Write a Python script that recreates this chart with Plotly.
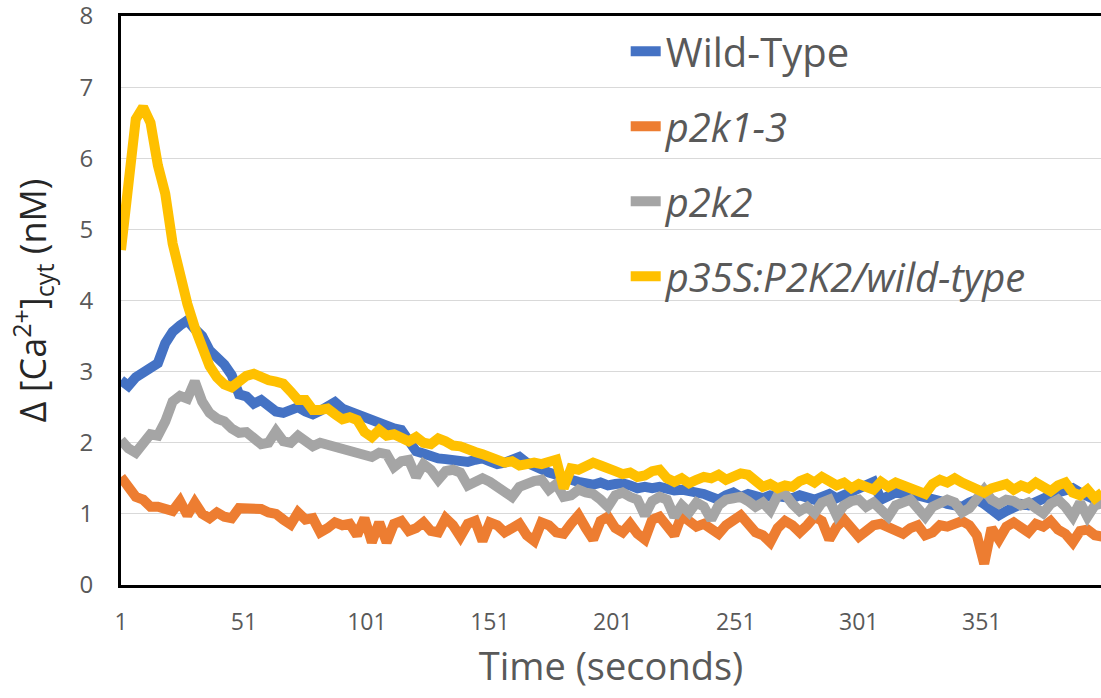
import plotly.graph_objects as go

time_s = list(range(1, 401, 3))

wild_type = [
    2.88, 2.80, 2.92, 3.00, 3.06, 3.12, 3.40, 3.56, 3.65, 3.72,
    3.60, 3.50, 3.30, 3.20, 3.10, 2.95, 2.68, 2.65, 2.55, 2.60,
    2.52, 2.44, 2.42, 2.45, 2.50, 2.44, 2.40, 2.45, 2.50, 2.57,
    2.48, 2.44, 2.40, 2.36, 2.32, 2.26, 2.22, 2.20, 2.18, 2.05,
    1.88, 1.85, 1.80, 1.78, 1.77, 1.76, 1.74, 1.73, 1.76, 1.78,
    1.74, 1.70, 1.72, 1.76, 1.80, 1.72, 1.66, 1.62, 1.58, 1.55,
    1.50, 1.48, 1.45, 1.43, 1.41, 1.44, 1.40, 1.42, 1.43, 1.40,
    1.36, 1.38, 1.36, 1.38, 1.35, 1.33, 1.34, 1.32, 1.33, 1.28,
    1.24, 1.20, 1.26, 1.30, 1.24, 1.28, 1.25, 1.22, 1.26, 1.24,
    1.22, 1.22, 1.26, 1.24, 1.20, 1.24, 1.28, 1.22, 1.26, 1.30,
    1.34, 1.38, 1.45, 1.20, 1.26, 1.30, 1.28, 1.22, 1.26, 1.24,
    1.20, 1.18, 1.14, 1.12, 1.10, 1.16, 1.20, 1.14, 1.06, 0.98,
    1.04, 1.10, 1.14, 1.12, 1.18, 1.22, 1.26, 1.30, 1.34, 1.36,
    1.30, 1.24, 1.20, 1.22,
]

p2k1_3 = [
    1.52, 1.36, 1.24, 1.20, 1.10, 1.10, 1.06, 1.04, 1.18, 0.98,
    1.16, 1.00, 0.94, 1.02, 0.96, 0.94, 1.08, 1.08, 1.05, 1.07,
    1.02, 1.00, 0.92, 0.85, 1.02, 0.92, 0.94, 0.74, 0.80, 0.88,
    0.84, 0.86, 0.70, 0.94, 0.60, 0.88, 0.60, 0.86, 0.90, 0.76,
    0.80, 0.88, 0.76, 0.74, 0.94, 0.84, 0.68, 0.86, 0.90, 0.62,
    0.88, 0.84, 0.74, 0.82, 0.86, 0.70, 0.62, 0.88, 0.84, 0.74,
    0.72, 0.86, 0.98, 0.80, 0.64, 0.90, 0.96, 0.80, 0.74, 0.86,
    0.72, 0.64, 0.92, 0.96, 0.80, 0.70, 0.98, 0.90, 0.82, 0.86,
    0.78, 0.72, 0.84, 0.92, 0.98, 0.86, 0.74, 0.70, 0.60, 0.80,
    0.90, 0.84, 0.74, 0.84, 0.96, 0.90, 0.64, 0.82, 0.92, 0.80,
    0.68, 0.76, 0.84, 0.86, 0.82, 0.78, 0.72, 0.80, 0.84, 0.70,
    0.74, 0.84, 0.82, 0.86, 0.90, 0.84, 0.70, 0.30, 0.80, 0.64,
    0.82, 0.88, 0.80, 0.74, 0.86, 0.82, 0.90, 0.78, 0.72, 0.60,
    0.76, 0.78, 0.70, 0.68,
]

p2k2 = [
    2.04, 1.92, 1.86, 2.02, 2.12, 2.10, 2.30, 2.58, 2.66, 2.62,
    2.86, 2.58, 2.42, 2.34, 2.30, 2.20, 2.14, 2.15, 2.08, 1.98,
    2.00, 2.16, 2.02, 2.00, 2.10, 2.02, 1.95, 2.00, 1.97, 1.94,
    1.92, 1.90, 1.84, 1.82, 1.80, 1.86, 1.84, 1.66, 1.74, 1.76,
    1.52, 1.70, 1.62, 1.48, 1.60, 1.62, 1.58, 1.40, 1.46, 1.50,
    1.45, 1.38, 1.30, 1.24, 1.38, 1.43, 1.46, 1.48, 1.34, 1.42,
    1.24, 1.26, 1.34, 1.30, 1.28, 1.20, 1.10, 1.26, 1.30, 1.24,
    1.20, 0.98, 1.18, 1.24, 1.20, 0.96, 1.12, 1.02, 1.16, 1.10,
    0.92, 1.12, 1.20, 1.22, 1.24, 1.18, 1.10, 1.16, 1.05, 1.26,
    1.28, 1.14, 1.04, 1.10, 1.01, 1.16, 1.20, 0.98, 1.12, 1.18,
    1.20, 1.10, 1.16, 1.06, 0.96, 1.12, 1.18, 1.20, 1.08, 0.96,
    1.10, 1.14, 1.20, 1.16, 1.02, 1.08, 1.22, 1.34, 1.20, 1.14,
    1.20, 1.18, 1.12, 1.16, 1.08, 1.01, 1.14, 1.20, 1.10, 0.96,
    1.16, 0.96, 1.12, 1.15,
]

p35s_p2k2_wt = [
    4.71, 5.70, 6.55, 6.72, 6.50, 5.90, 5.50, 4.80, 4.35, 3.95,
    3.62, 3.30, 3.08, 2.92, 2.82, 2.78, 2.88, 2.94, 2.97, 2.92,
    2.88, 2.86, 2.83, 2.72, 2.60, 2.60, 2.46, 2.46, 2.48, 2.40,
    2.33, 2.36, 2.32, 2.15, 2.08, 2.18, 2.10, 2.12, 2.05, 2.02,
    2.08, 2.00, 1.98, 2.06, 2.02, 1.96, 1.95, 1.90, 1.87, 1.84,
    1.80, 1.78, 1.72, 1.74, 1.68, 1.70, 1.72, 1.70, 1.74, 1.76,
    1.36, 1.64, 1.62, 1.66, 1.72, 1.68, 1.62, 1.60, 1.56, 1.58,
    1.52, 1.54, 1.60, 1.62, 1.50, 1.45, 1.50, 1.43, 1.48, 1.52,
    1.50, 1.55, 1.48, 1.52, 1.57, 1.55, 1.46, 1.38, 1.42, 1.36,
    1.40, 1.38, 1.46, 1.50, 1.44, 1.52, 1.46, 1.40, 1.44, 1.36,
    1.42, 1.38, 1.34, 1.45, 1.38, 1.44, 1.40, 1.36, 1.32, 1.28,
    1.42, 1.48, 1.44, 1.50, 1.44, 1.38, 1.32, 1.30, 1.36, 1.38,
    1.42, 1.34, 1.40, 1.36, 1.44, 1.38, 1.32, 1.40, 1.44, 1.30,
    1.26, 1.34, 1.22, 1.30,
]

series_names = ["Wild-Type", "<i>p2k1-3</i>", "<i>p2k2</i>", "<i>p35S:P2K2/wild-type</i>"]
series_values = [wild_type, p2k1_3, p2k2, p35s_p2k2_wt]
series_colors = ["#4472C4", "#ED7D31", "#A5A5A5", "#FFC000"]

x_tick_vals = [1, 51, 101, 151, 201, 251, 301, 351]
y_tick_vals = [0, 1, 2, 3, 4, 5, 6, 7, 8]

fig = go.Figure()
for i, (name, vals, col) in enumerate(zip(series_names, series_values, series_colors)):
    fig.add_trace(go.Scatter(
        x=time_s, y=vals, mode="lines", name=name,
        line=dict(color=col, width=10),
        legendgroup=str(i),
    ))

fig.update_layout(
    width=1101, height=698,
    margin=dict(l=121, r=0, t=16, b=113, autoexpand=False),
    paper_bgcolor="white", plot_bgcolor="white",
    font=dict(family="Open Sans, DejaVu Sans, sans-serif", color="#595959"),
    showlegend=True,
    legend=dict(
        x=0.515, y=0.995, xanchor="left", yanchor="top",
        bgcolor="rgba(0,0,0,0)", borderwidth=0,
        font=dict(size=40, color="#595959"),
        traceorder="grouped", tracegroupgap=20,
        itemwidth=30,
    ),
    xaxis=dict(
        range=[1, 399.5], tickmode="array", tickvals=x_tick_vals,
        ticktext=[str(v) for v in x_tick_vals],
        showgrid=False, zeroline=False,
        showline=True, linecolor="black", linewidth=3, mirror=True,
        ticks="", tickfont=dict(size=23, color="#595959"),
        ticklabelstandoff=14,
        title=dict(text="Time (seconds)", font=dict(size=38, color="#595959"), standoff=18),
    ),
    yaxis=dict(
        range=[0, 8], tickmode="array", tickvals=y_tick_vals,
        ticktext=[str(v) for v in y_tick_vals],
        ticklabeloverflow="allow",
        showgrid=True, gridcolor="#D9D9D9", gridwidth=1,
        zeroline=False, showline=True, linecolor="black", linewidth=3,
        ticks="", tickfont=dict(size=24, color="#595959"),
        ticklabelstandoff=20,
        title=dict(text="Δ [Ca<sup>2+</sup>]<sub>cyt</sub> (nM)",
                   font=dict(size=36, color="#262626"), standoff=22),
    ),
)

fig.write_html(
    "out.html",
    config={"displayModeBar": False},
    post_script="document.body.style.margin='0';document.body.style.overflow='hidden';",
)
